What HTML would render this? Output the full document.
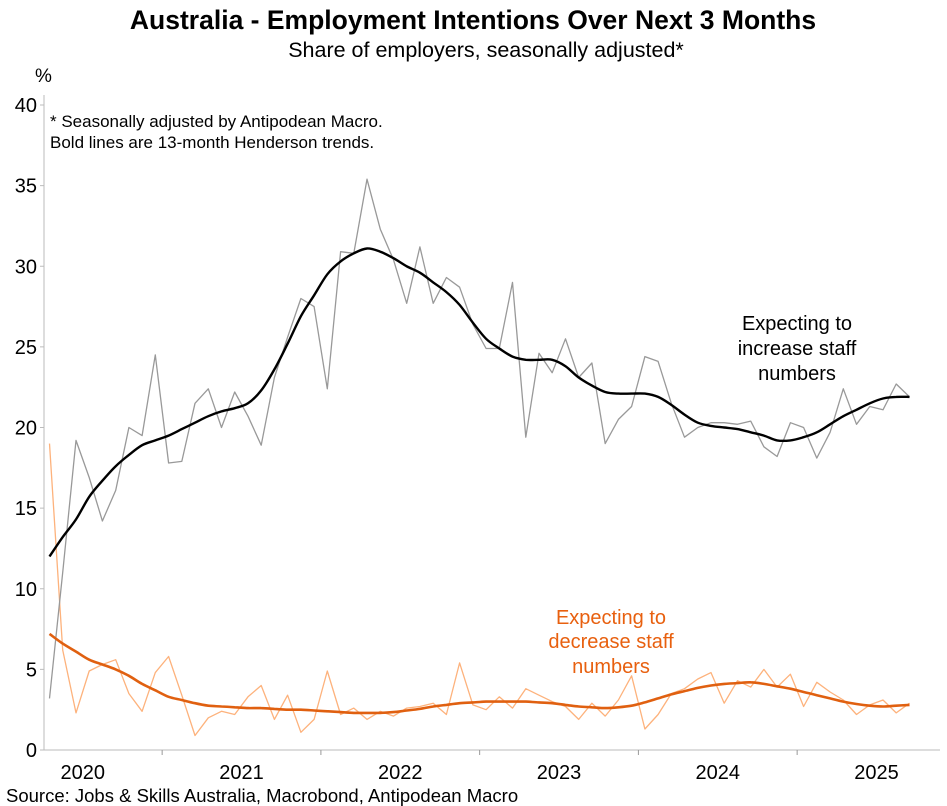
<!DOCTYPE html>
<html><head><meta charset="utf-8"><style>
html,body{margin:0;padding:0;background:#fff;}
svg{display:block;font-family:"Liberation Sans",Arial,sans-serif;}
</style></head><body>
<svg id="chart" width="947" height="806" viewBox="0 0 947 806" xmlns="http://www.w3.org/2000/svg">
<text x="473" y="29" text-anchor="middle" font-size="26.5" font-weight="bold">Australia - Employment Intentions Over Next 3 Months</text>
<text x="486" y="57" text-anchor="middle" font-size="21.5">Share of employers, seasonally adjusted*</text>
<text x="35" y="82" font-size="19">%</text>
<text x="50" y="127" font-size="17">* Seasonally adjusted by Antipodean Macro.</text>
<text x="50" y="148" font-size="17">Bold lines are 13-month Henderson trends.</text>
<g font-size="20" text-anchor="middle" fill="#000">
<text x="797" y="330">Expecting to</text><text x="797" y="355">increase staff</text><text x="797" y="380">numbers</text></g>
<g font-size="20" text-anchor="middle" fill="#E8600F">
<text x="611" y="624">Expecting to</text><text x="611" y="648">decrease staff</text><text x="611" y="673">numbers</text></g>
<g id="axes"></g>
<g id="series"></g>
<text x="6" y="802" font-size="18.5">Source: Jobs &amp; Skills Australia, Macrobond, Antipodean Macro</text>
</svg>
<script>
const yTicks=[0,5,10,15,20,25,30,35,40];
const years=["2020","2021","2022","2023","2024","2025"];
const increaseRaw=[3.2,11,19.2,16.9,14.2,16.1,20.0,19.5,24.5,17.8,17.9,21.5,22.4,20.0,22.2,20.7,18.9,23.1,25.6,28.0,27.5,22.4,30.9,30.8,35.4,32.3,30.4,27.7,31.2,27.7,29.3,28.7,26.4,24.9,24.9,29.0,19.4,24.6,23.4,25.5,23.1,24.0,19.0,20.5,21.3,24.4,24.1,21.5,19.4,20.0,20.3,20.3,20.2,20.4,18.8,18.2,20.3,20.0,18.1,19.7,22.4,20.2,21.3,21.1,22.7,21.9];
const increaseTrend=[12.0,13.2,14.3,15.7,16.7,17.6,18.3,18.9,19.2,19.5,19.9,20.3,20.7,21.0,21.2,21.5,22.3,23.6,25.2,26.9,28.2,29.5,30.3,30.8,31.1,30.9,30.5,30.0,29.6,29.0,28.4,27.6,26.5,25.5,24.9,24.4,24.2,24.2,24.2,23.8,23.1,22.6,22.2,22.1,22.1,22.1,21.9,21.4,20.8,20.3,20.1,20.0,19.9,19.7,19.5,19.2,19.2,19.4,19.7,20.2,20.7,21.1,21.5,21.8,21.9,21.9];
const decreaseRaw=[19.0,6.2,2.3,4.9,5.3,5.6,3.5,2.4,4.8,5.8,3.4,0.9,2.0,2.4,2.2,3.3,4.0,1.9,3.4,1.1,1.9,4.9,2.2,2.6,1.9,2.4,2.1,2.6,2.7,2.9,2.2,5.4,2.8,2.5,3.3,2.6,3.8,3.4,3.0,2.7,1.9,2.9,2.1,3.1,4.6,1.3,2.2,3.5,3.8,4.4,4.8,2.9,4.3,3.9,5.0,3.9,4.7,2.7,4.2,3.6,3.1,2.2,2.8,3.1,2.3,2.9];
const decreaseTrend=[7.2,6.6,6.1,5.6,5.3,5.0,4.6,4.1,3.7,3.3,3.1,2.9,2.75,2.7,2.65,2.6,2.6,2.55,2.5,2.5,2.45,2.4,2.35,2.3,2.3,2.3,2.35,2.45,2.55,2.7,2.8,2.9,2.95,3.0,3.0,3.0,3.0,2.95,2.9,2.8,2.7,2.65,2.6,2.65,2.75,2.95,3.2,3.45,3.65,3.85,4.0,4.1,4.15,4.2,4.1,3.95,3.8,3.6,3.4,3.2,3.0,2.85,2.75,2.7,2.75,2.8];

const NS="http://www.w3.org/2000/svg";
const X0=49.5, STEP=13.23, Y0=750, YPX=16.125;
const yearStart=3.4, yearW=158.75;
function xs(i){return X0+i*STEP;}
function ys(v){return Y0-v*YPX;}
function mk(tag,attrs,parent){const e=document.createElementNS(NS,tag);for(const k in attrs)e.setAttribute(k,attrs[k]);parent.appendChild(e);return e;}
const ax=document.getElementById('axes');
let l=mk('line',{x1:44,y1:95,x2:44,y2:750,stroke:'#bbb','stroke-width':1},ax);


l=mk('line',{x1:44,y1:750,x2:940,y2:750,stroke:'#bbb','stroke-width':1},ax);


yTicks.forEach(v=>{
  const t=mk('line',{x1:40,y1:ys(v),x2:44,y2:ys(v),stroke:'#bbb'},ax);
  
  
  const tx=mk('text',{x:37,y:ys(v)+7,'text-anchor':'end','font-size':20},ax);
  tx.textContent=v;
  
  
});
years.forEach((y,k)=>{
  if(k>0){const t=mk('line',{x1:yearStart+k*yearW,y1:750,x2:yearStart+k*yearW,y2:755,stroke:'#999'},ax);
  
  }
  const tx=mk('text',{x:yearStart+(k+0.5)*yearW,y:779,'text-anchor':'middle','font-size':20},ax);
  tx.textContent=y;
  
  
});
const sg=document.getElementById('series');
function line(arr,color,w,name){
  const p=mk('polyline',{points:arr.map((v,i)=>xs(i).toFixed(1)+','+ys(v).toFixed(1)).join(' '),fill:'none',stroke:color,'stroke-width':w,'stroke-linejoin':'round'},sg);
  
  
}
function smooth(arr,color,w,name){
  const P=arr.map((v,i)=>[xs(i),ys(v)]);
  let d='M'+P[0][0].toFixed(1)+','+P[0][1].toFixed(1);
  for(let i=0;i<P.length-1;i++){
    const p0=P[Math.max(0,i-1)],p1=P[i],p2=P[i+1],p3=P[Math.min(P.length-1,i+2)];
    const c1=[p1[0]+(p2[0]-p0[0])/6,p1[1]+(p2[1]-p0[1])/6];
    const c2=[p2[0]-(p3[0]-p1[0])/6,p2[1]-(p3[1]-p1[1])/6];
    d+=' C'+c1[0].toFixed(1)+','+c1[1].toFixed(1)+' '+c2[0].toFixed(1)+','+c2[1].toFixed(1)+' '+p2[0].toFixed(1)+','+p2[1].toFixed(1);
  }
  const p=mk('path',{d:d,fill:'none',stroke:color,'stroke-width':w,'stroke-linejoin':'round'},sg);
  
  
}
line(decreaseRaw,'#FDB27C',1.3,'decrease-raw-line');
line(increaseRaw,'#999999',1.3,'increase-raw-line');
smooth(decreaseTrend,'#E06010',2.6,'decrease-trend-line');
smooth(increaseTrend,'#000000',2.4,'increase-trend-line');
</script>
</body></html>
